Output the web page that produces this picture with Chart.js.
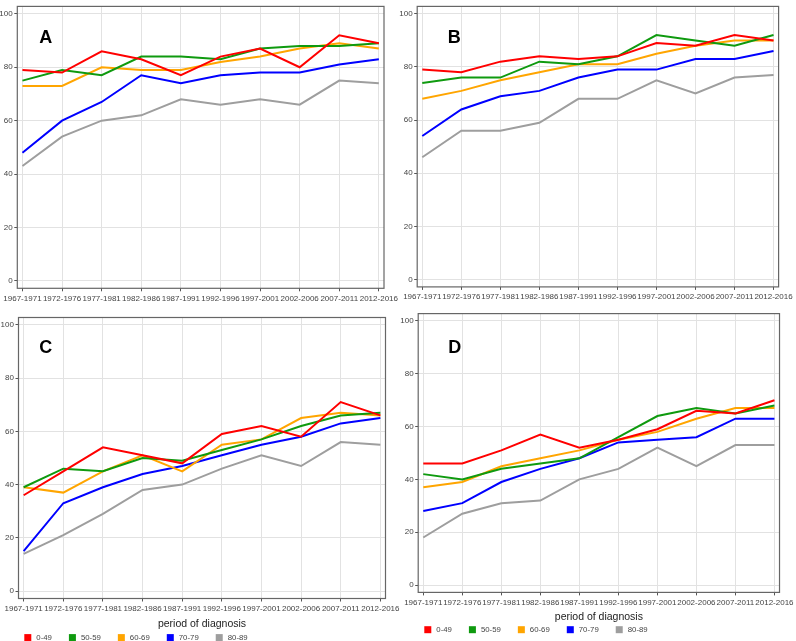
<!DOCTYPE html>
<html>
<head>
<meta charset="utf-8">
<script src="https://cdn.jsdelivr.net/npm/chart.js@4.4.1/dist/chart.umd.min.js"></script>
<style>
  body { margin: 0; background: #fff; }
  #wrap { position: relative; width: 796px; height: 641px; overflow: hidden; background: #fff; }
  #wrap canvas { position: absolute; left: 0; top: 0; }
</style>
</head>
<body>
<div id="wrap">
  <canvas id="chartA" width="796" height="641"></canvas>
  <canvas id="chartB" width="796" height="641"></canvas>
  <canvas id="chartC" width="796" height="641"></canvas>
  <canvas id="chartD" width="796" height="641"></canvas>
</div>
<script>
// categories
var periods = ["1967-1971", "1972-1976", "1977-1981", "1982-1986", "1987-1991",
  "1992-1996", "1997-2001", "2002-2006", "2007-2011", "2012-2016"];
var ageGroups = ["0-49", "50-59", "60-69", "70-79", "80-89"];
var yTicks = [0, 20, 40, 60, 80, 100];

// panel A
var a0049 = [79, 78, 86, 83, 77, 84, 87, 80, 92, 89];
var a5059 = [75, 79, 77, 84, 84, 83, 87, 88, 88, 89];
var a6069 = [73, 73, 80, 79, 79, 82, 84, 87, 89, 87];
var a7079 = [48, 60, 67, 77, 74, 77, 78, 78, 81, 83];
var a8089 = [43, 54, 60, 62, 68, 66, 68, 66, 75, 74];

// panel B
var b0049 = [79, 78, 82, 84, 83, 84, 89, 88, 92, 90];
var b5059 = [74, 76, 76, 82, 81, 84, 92, 90, 88, 92];
var b6069 = [68, 71, 75, 78, 81, 81, 85, 88, 90, 90];
var b7079 = [54, 64, 69, 71, 76, 79, 79, 83, 83, 86];
var b8089 = [46, 56, 56, 59, 68, 68, 75, 70, 76, 77];

// panel C
var c0049 = [36, 45, 54, 51, 48, 59, 62, 58, 71, 66];
var c5059 = [39, 46, 45, 50, 49, 53, 57, 62, 66, 67];
var c6069 = [39, 37, 45, 51, 45, 55, 57, 65, 67, 66];
var c7079 = [15, 33, 39, 44, 47, 51, 55, 58, 63, 65];
var c8089 = [14, 21, 29, 38, 40, 46, 51, 47, 56, 55];

// panel D
var d0049 = [46, 46, 51, 57, 52, 55, 59, 66, 65, 70];
var d5059 = [42, 40, 44, 46, 48, 56, 64, 67, 65, 68];
var d6069 = [37, 39, 45, 48, 51, 55, 58, 63, 67, 67];
var d7079 = [28, 31, 39, 44, 48, 54, 55, 56, 63, 63];
var d8089 = [18, 27, 31, 32, 40, 44, 52, 45, 53, 53];

var seriesColors = ["#ff0000", "#0f9a0f", "#ffa500", "#0000ff", "#9e9e9e"];
var fontFamily = "'Liberation Sans', Arial, sans-serif";

Chart.defaults.font.family = fontFamily;
Chart.defaults.font.size = 8;
Chart.defaults.color = "#444";

// frame, panel letter and legend
var panelDecor = {
  id: "panelDecor",
  afterDatasetsDraw: function (chart) {
    var a = chart.chartArea, ctx = chart.ctx;
    ctx.save();
    ctx.strokeStyle = "#666";
    ctx.lineWidth = 1.2;
    ctx.strokeRect(a.left, a.top, a.right - a.left, a.bottom - a.top);
    ctx.restore();
  },
  afterDraw: function (chart, args, opts) {
    var ctx = chart.ctx;
    ctx.save();
    ctx.fillStyle = "#000";
    ctx.font = "bold 18px " + fontFamily;
    ctx.textBaseline = "alphabetic";
    ctx.fillText(opts.letter, opts.letterX, opts.letterY);
    if (opts.legend) {
      var x = opts.legend.x, y = opts.legend.y;
      ctx.font = "7.8px " + fontFamily;
      ctx.textBaseline = "middle";
      chart.data.datasets.forEach(function (ds) {
        ctx.fillStyle = ds.borderColor;
        ctx.fillRect(x, y - 3.5, 7, 7);
        ctx.fillStyle = "#444";
        ctx.fillText(ds.label, x + 12, y);
        x += 12 + ctx.measureText(ds.label).width + 17;
      });
    }
    ctx.restore();
  }
};

function makePanel(canvasId, series, box, decor, withTitle) {
  var datasets = series.map(function (values, i) {
    return {
      label: ageGroups[i],
      data: values.map(function (v, j) { return { x: j, y: v }; }),
      borderColor: seriesColors[i],
      backgroundColor: seriesColors[i],
      borderWidth: 2,
      pointRadius: 0,
      tension: 0,
      fill: false
    };
  });

  return new Chart(document.getElementById(canvasId).getContext("2d"), {
    type: "line",
    data: { datasets: datasets },
    plugins: [panelDecor],
    options: {
      responsive: false,
      animation: false,
      devicePixelRatio: 1,
      layout: {
        padding: { left: 0, right: 796 - box.r, top: box.t, bottom: 641 - box.b - box.xh }
      },
      plugins: {
        legend: { display: false },
        tooltip: { enabled: false },
        panelDecor: decor
      },
      scales: {
        x: {
          type: "linear",
          min: -0.13,
          max: 9.13,
          bounds: "data",
          afterFit: function (scale) { scale.height = box.xh; },
          afterBuildTicks: function (scale) {
            scale.ticks = periods.map(function (p, i) { return { value: i }; });
          },
          grid: { color: "#e2e2e2", tickColor: "#555", tickLength: 3 },
          border: { display: false },
          ticks: {
            autoSkip: false,
            maxRotation: 0,
            padding: 2.2,
            color: "#444",
            callback: function (v) { return periods[v]; }
          },
          title: {
            display: withTitle,
            text: "period of diagnosis",
            color: "#222",
            font: { size: 10.5 },
            padding: 0
          }
        },
        y: {
          min: -2.8,
          max: 102.8,
          bounds: "data",
          afterFit: function (scale) { scale.width = box.l; },
          afterBuildTicks: function (scale) {
            scale.ticks = yTicks.map(function (v) { return { value: v }; });
          },
          grid: { color: "#e2e2e2", tickColor: "#555", tickLength: 3 },
          border: { display: false },
          ticks: { padding: 1.6, color: "#444" }
        }
      }
    }
  });
}

makePanel("chartA", [a0049, a5059, a6069, a7079, a8089],
  { l: 17.3, r: 384, t: 2.7, b: 288.3, xh: 25 },
  { letter: "A", letterX: 39.3, letterY: 43.3 }, false);

makePanel("chartB", [b0049, b5059, b6069, b7079, b8089],
  { l: 417.2, r: 778.6, t: 1.4, b: 286.9, xh: 25 },
  { letter: "B", letterX: 447.7, letterY: 43.3 }, false);

makePanel("chartC", [c0049, c5059, c6069, c7079, c8089],
  { l: 18.5, r: 385.5, t: 317.5, b: 598.5, xh: 31.8 },
  { letter: "C", letterX: 39.3, letterY: 352.7, legend: { x: 24.3, y: 637.6 } }, true);

makePanel("chartD", [d0049, d5059, d6069, d7079, d8089],
  { l: 418.2, r: 779.8, t: 313.6, b: 592.4, xh: 30.9 },
  { letter: "D", letterX: 448.3, letterY: 352.7, legend: { x: 424.3, y: 629.7 } }, true);
</script>
</body>
</html>
